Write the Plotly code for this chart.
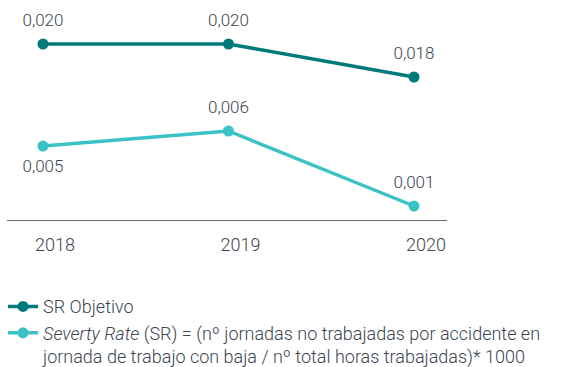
import plotly.graph_objects as go

years = ["2018", "2019", "2020"]
sr_objetivo = [0.020, 0.020, 0.018]
severity_rate = [0.005, 0.006, 0.001]

dark = "#00797a"
light = "#3bc2c7"
text_col = "#3a4550"
font_family = "Roboto, 'Open Sans', sans-serif"
label_font = dict(size=17, color=text_col, family=font_family, weight=300)

x_pos = list(range(len(years)))

fig = go.Figure()


def add_series(values, name, color, axis, positions):
    # line with markers
    fig.add_trace(go.Scatter(
        x=x_pos, y=values, name=name,
        mode="lines+markers",
        line=dict(color=color, width=3.5),
        marker=dict(color=color, size=11),
        yaxis=axis, hoverinfo="skip",
    ))
    # value labels, spaced from the markers by a transparent larger marker
    fig.add_trace(go.Scatter(
        x=x_pos, y=values, mode="markers+text",
        marker=dict(color=color, size=20, opacity=0),
        texttemplate="%{y:.3f}", textposition=positions,
        textfont=label_font, cliponaxis=False,
        showlegend=False, hoverinfo="skip", yaxis=axis,
    ))


add_series(sr_objetivo, "SR Objetivo", dark, "y2", "top center")
add_series(
    severity_rate,
    "<i>Severty Rate</i> (SR) = (nº jornadas no trabajadas por accidente en<br>"
    "jornada de trabajo con baja / nº total horas trabajadas)* 1000",
    light, "y", ["bottom center", "top center", "top center"],
)

fig.update_layout(
    width=563, height=367,
    margin=dict(l=7, r=116, t=10, b=147, autoexpand=False),
    paper_bgcolor="white", plot_bgcolor="white",
    separators=",.",
    font=dict(family=font_family, color=text_col, weight=300),
    showlegend=True,
    legend=dict(
        orientation="v",
        x=-0.009, xanchor="left", y=-0.325, yanchor="top",
        valign="top",
        font=dict(size=18, color=text_col, family=font_family, weight=300),
        bgcolor="rgba(0,0,0,0)", tracegroupgap=2,
    ),
    xaxis=dict(
        range=[-0.194, 2.178],
        tickvals=x_pos, ticktext=years,
        showline=True, linecolor="#6b6b6b", linewidth=1.2,
        showgrid=False, zeroline=False, ticks="",
        ticklabelshift=12, ticklabelstandoff=8,
        tickfont=dict(size=18, color=text_col, family=font_family, weight=300),
    ),
    yaxis=dict(range=[0.0000667, 0.0140667], visible=False, showgrid=False, zeroline=False),
    yaxis2=dict(range=[0.009333, 0.022061], visible=False, showgrid=False, zeroline=False,
                overlaying="y", side="right"),
)

fig.write_html("out.html")
